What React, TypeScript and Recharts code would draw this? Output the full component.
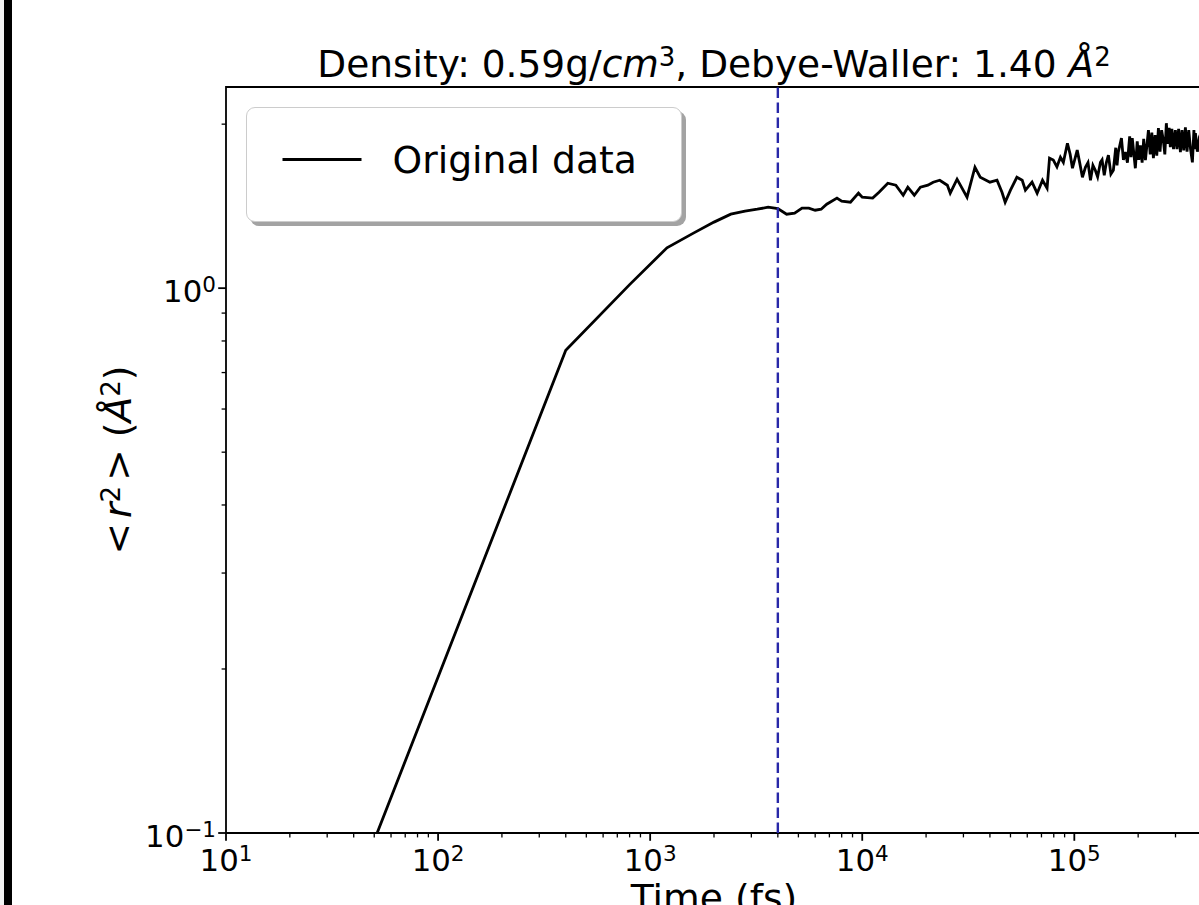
import React from 'react';
import {
  LineChart,
  Line,
  XAxis,
  YAxis,
  ReferenceLine,
  ReferenceArea,
  Legend,
} from 'recharts';

// time in fs, mean square displacement in A^2
const times = [
  40, 400, 800, 1200, 1600, 2000, 2400, 2800, 3200, 3600, 4000, 4400, 4800,
  5200, 5600, 6000, 6400, 6800, 7600, 8000, 8800, 9600, 10000, 11200, 12000,
  13200, 14400, 15600, 16400, 17600, 18800, 20400, 21600, 23200, 25200, 26000,
  28000, 31200, 34000, 36000, 40000, 43200, 45600, 47200, 50000, 53600, 56800,
  58800, 63200, 66800, 70800, 74400, 76400, 79600, 82800, 86000, 88800, 92800,
  95600, 98000, 103200, 106000, 109200, 112800, 116000, 119200, 122400, 125600,
  128800, 132800, 135200, 138400, 141600, 144800, 148800, 152800, 156800,
  159000, 161200, 166800, 170400, 174000, 178000, 182400, 185000, 187600,
  194000, 198000, 201400, 204800, 208800, 212400, 216400, 223600, 228000,
  232000, 236000, 240400, 244800, 249200, 253600, 258000, 262800, 267200,
  271600, 276000, 280000, 283600, 288400, 293600, 299600, 304800, 310400,
  316400, 322000, 328000, 334000, 340000, 346400, 353200, 360400, 366400,
  369200, 372400, 380400, 388800, 400000,
];
const msd = [
  0.0776, 0.769, 1.015, 1.186, 1.262, 1.322, 1.367, 1.385, 1.396, 1.408, 1.4,
  1.367, 1.373, 1.402, 1.402, 1.39, 1.396, 1.426, 1.463, 1.444, 1.438, 1.494,
  1.469, 1.463, 1.5, 1.558, 1.545, 1.481, 1.532, 1.481, 1.532, 1.545, 1.565,
  1.578, 1.545, 1.494, 1.585, 1.469, 1.667, 1.598, 1.565, 1.578, 1.5, 1.438,
  1.513, 1.598, 1.578, 1.513, 1.565, 1.494, 1.578, 1.526, 1.732, 1.718, 1.67,
  1.739, 1.702, 1.845, 1.76, 1.66, 1.792, 1.7, 1.598, 1.667, 1.7, 1.578, 1.68,
  1.646, 1.6, 1.702, 1.72, 1.612, 1.7, 1.754, 1.62, 1.646, 1.81, 1.68, 1.777,
  1.885, 1.72, 1.777, 1.7, 1.9, 1.74, 1.885, 1.66, 1.86, 1.72, 1.829, 1.7,
  1.88, 1.718, 1.95, 1.76, 1.93, 1.732, 1.91, 1.75, 1.966, 1.78, 1.95, 1.869,
  1.76, 2.008, 1.84, 1.97, 1.814, 1.96, 1.8, 1.95, 1.8, 1.96, 1.777, 1.95,
  1.79, 1.974, 1.78, 1.95, 1.8, 1.702, 1.95, 1.8, 1.925, 1.78, 1.893, 1.95,
];

const xMajor = [10, 100, 1000, 10000, 100000];
const xMinor = [
  20, 30, 40, 50, 60, 70, 80, 90, 200, 300, 400, 500, 600, 700, 800, 900, 2000,
  3000, 4000, 5000, 6000, 7000, 8000, 9000, 20000, 30000, 40000, 50000, 60000,
  70000, 80000, 90000, 200000, 300000,
];
const yMajor = [0.1, 1];
const yMinor = [0.2, 0.3, 0.4, 0.5, 0.6, 0.7, 0.8, 0.9, 2];

const xDomain = [10, 400000];
const yDomain = [0.1, 2.34];
const debyeWallerTime = 4000;

const data = times.map((t, i) => ({ t, r: msd[i] }));

const FONT = '"DejaVu Sans", sans-serif';

const isMajor = (v: number, majors: number[]) =>
  majors.some((m) => Math.abs(m - v) / m < 1e-9);

const expText = (v: number) => {
  const e = Math.round(Math.log10(v));
  return e < 0 ? '\u2212' + Math.abs(e) : String(e);
};

const XTick = (props: any) => {
  const { x, y, payload } = props;
  const v = payload.value;
  const major = isMajor(v, xMajor);
  return (
    <g>
      <line
        x1={x}
        x2={x}
        y1={y}
        y2={y + (major ? 7.8 : 4.4)}
        stroke="#000"
        strokeWidth={major ? 1.8 : 1.3}
      />
      {major && (
        <text x={x} y={y + 38} textAnchor="middle" fontFamily={FONT} fontSize={30.8} fill="#000">
          10
          <tspan dy={-10} fontSize={21.5}>
            {expText(v)}
          </tspan>
        </text>
      )}
    </g>
  );
};

const YTick = (props: any) => {
  const { x, y, payload } = props;
  const v = payload.value;
  const major = isMajor(v, yMajor);
  return (
    <g>
      <line
        x1={x - (major ? 7.8 : 4.4)}
        x2={x}
        y1={y}
        y2={y}
        stroke="#000"
        strokeWidth={major ? 1.8 : 1.3}
      />
      {major && (
        <text x={x - 10} y={y + 14} textAnchor="end" fontFamily={FONT} fontSize={30.8} fill="#000">
          10
          <tspan dy={-10} fontSize={21.5}>
            {expText(v)}
          </tspan>
        </text>
      )}
    </g>
  );
};

const renderLegend = () => (
  <div
    style={{
      boxSizing: 'border-box',
      width: 436,
      height: 115,
      border: '1.5px solid #cccccc',
      borderRadius: 9,
      background: '#fff',
      boxShadow: '4px 4px 0 #a3a3a3',
    }}
  >
    <svg width={433} height={112} style={{ display: 'block' }}>
      <line x1={35.5} x2={114.5} y1={51.5} y2={51.5} stroke="#000" strokeWidth={2.8} />
      <text x={145.5} y={64.5} fontFamily={FONT} fontSize={37.7} fill="#000">
        Original data
      </text>
    </svg>
  </div>
);

export default function App() {
  return (
    <div
      style={{
        position: 'fixed',
        left: 0,
        top: 0,
        width: 1199,
        height: 905,
        overflow: 'hidden',
        background: '#fff',
      }}
    >
      <div style={{ position: 'absolute', left: 0, top: 0, width: 4, height: 905, background: '#f3f3f3' }} />
      <div style={{ position: 'absolute', left: 4, top: 0, width: 8, height: 905, background: '#000' }} />

      <div style={{ position: 'absolute', left: 0, top: 0 }}>
        <LineChart
          width={1230}
          height={905}
          data={data}
          margin={{ top: 87, right: 28, bottom: 0, left: 0 }}
        >
          <XAxis
            dataKey="t"
            type="number"
            scale="log"
            domain={xDomain}
            allowDataOverflow
            ticks={[...xMajor, ...xMinor]}
            interval={0}
            tick={<XTick />}
            tickSize={0}
            tickMargin={0}
            tickLine={false}
            axisLine={false}
            height={72}
          />
          <YAxis
            type="number"
            scale="log"
            domain={yDomain}
            allowDataOverflow
            ticks={[...yMajor, ...yMinor]}
            interval={0}
            tick={<YTick />}
            tickSize={0}
            tickMargin={0}
            tickLine={false}
            axisLine={false}
            width={226}
          />
          <ReferenceArea
            x1={xDomain[0]}
            x2={xDomain[1]}
            y1={yDomain[0]}
            y2={yDomain[1]}
            fill="none"
            fillOpacity={0}
            stroke="#000"
            strokeWidth={1.8}
          />
          <Line
            type="linear"
            dataKey="r"
            stroke="#000"
            strokeWidth={2.8}
            dot={false}
            isAnimationActive={false}
          />
          <ReferenceLine
            x={debyeWallerTime}
            stroke="#2828a8"
            strokeWidth={2.4}
            strokeDasharray="10.5 4.5"
          />
          <Legend
            layout="horizontal"
            verticalAlign="middle"
            align="center"
            content={renderLegend}
            wrapperStyle={{ left: 246, top: 107, width: 436, height: 115 }}
          />
        </LineChart>
      </div>

      <svg
        width={1199}
        height={905}
        style={{ position: 'absolute', left: 0, top: 0, pointerEvents: 'none' }}
      >
        <text x={714} y={77} textAnchor="middle" fontFamily={FONT} fontSize={37.5} fill="#000">
          Density: 0.59g/
          <tspan fontStyle="italic">cm</tspan>
          <tspan dy={-11} fontSize={26}>3</tspan>
          <tspan dy={11}>, Debye-Waller: 1.40 </tspan>
          <tspan fontStyle="italic">Å</tspan>
          <tspan dy={-11} fontSize={26}>2</tspan>
        </text>
        <text
          x={131}
          y={460}
          transform="rotate(-90 131 460)"
          textAnchor="middle"
          fontFamily={FONT}
          fontSize={37.7}
          fill="#000"
        >
          {'<'}
          <tspan dx={5} fontStyle="italic">r</tspan>
          <tspan dy={-11} fontSize={26}>2</tspan>
          <tspan dy={11} dx={5}>{'>'}</tspan>
          <tspan>{' ('}</tspan>
          <tspan fontStyle="italic">Å</tspan>
          <tspan dy={-11} fontSize={26}>2</tspan>
          <tspan dy={11}>)</tspan>
        </text>
        <text x={714} y={911} textAnchor="middle" fontFamily={FONT} fontSize={37.7} fill="#000">
          Time (fs)
        </text>
      </svg>
    </div>
  );
}
